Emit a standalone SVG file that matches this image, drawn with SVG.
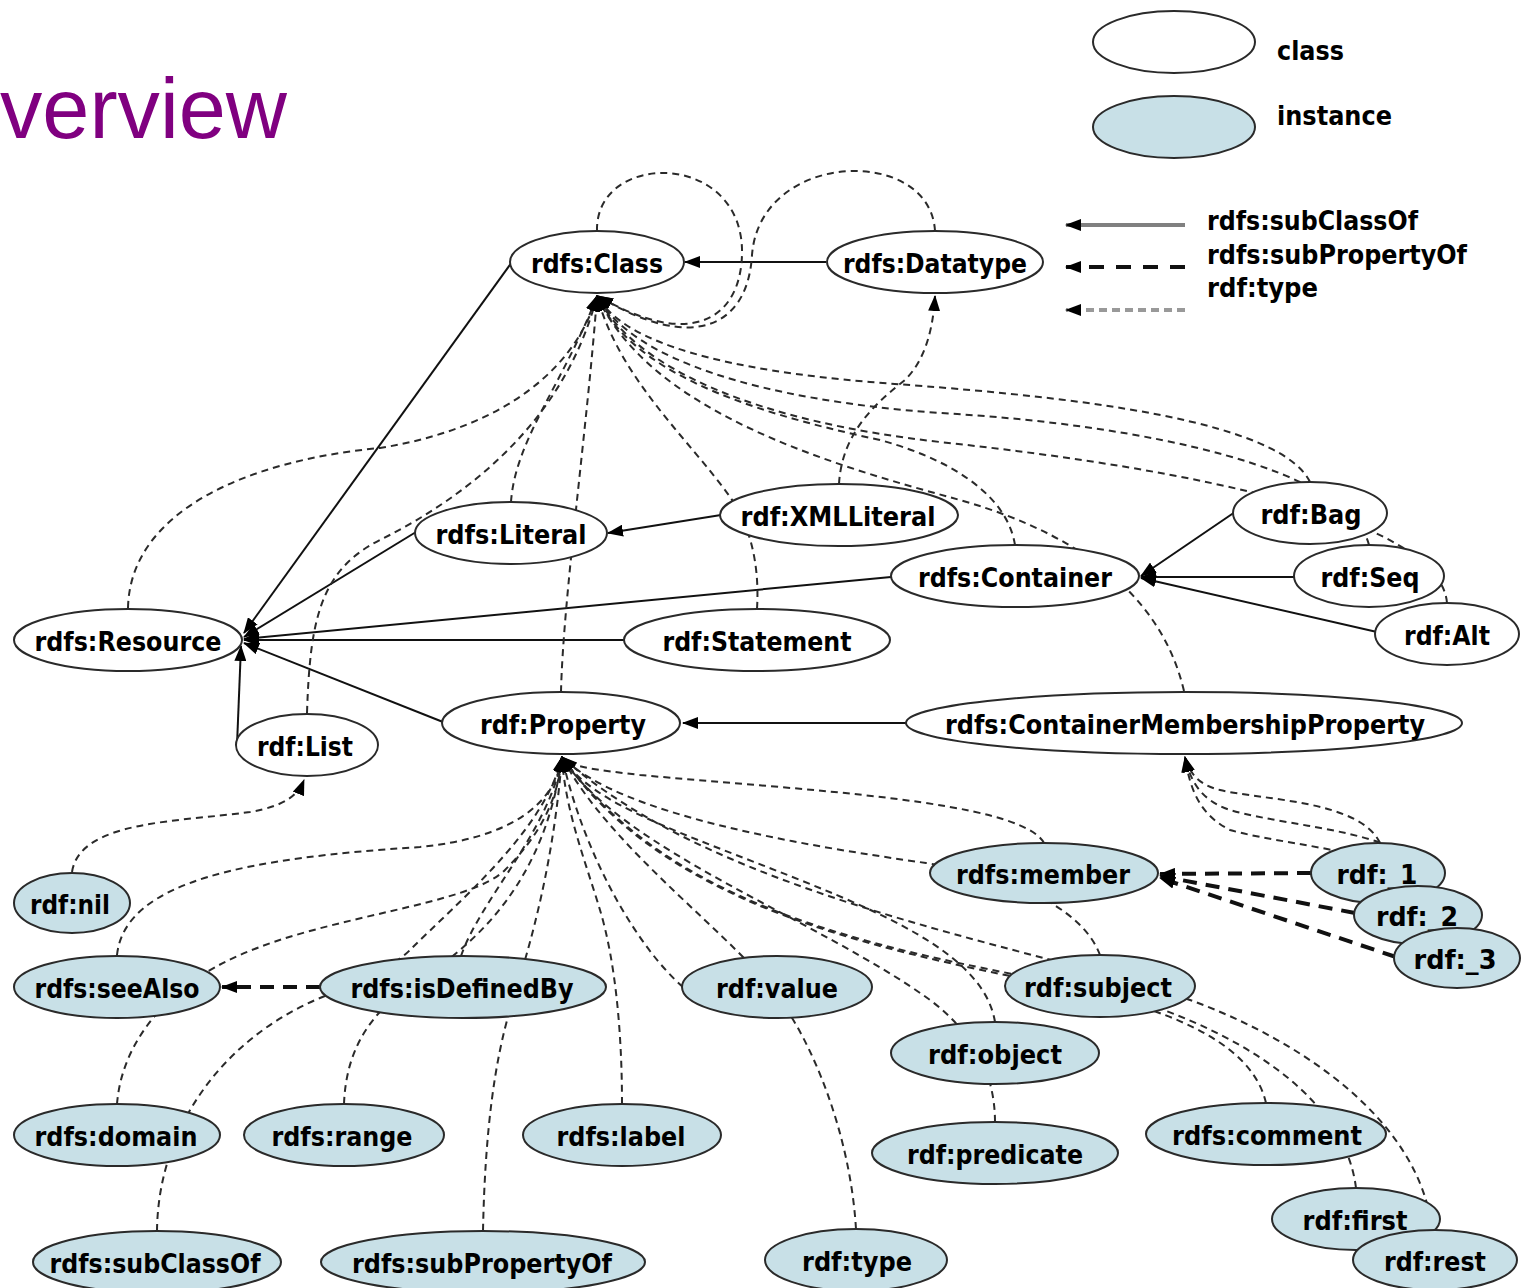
<svg xmlns="http://www.w3.org/2000/svg" width="1522" height="1288" viewBox="0 0 1522 1288">
<style>
.cls{fill:#ffffff;stroke:#2a2a2a;stroke-width:2}
.ins{fill:#c8e0e7;stroke:#2a2a2a;stroke-width:2}
.lbl{font-family:"DejaVu Sans Condensed","DejaVu Sans",sans-serif;font-weight:bold;font-size:26.5px;fill:#000;text-anchor:middle}
.leg{font-family:"DejaVu Sans Condensed","DejaVu Sans",sans-serif;font-weight:bold;font-size:26.5px;fill:#000}
.sub{fill:none;stroke:#111;stroke-width:2;marker-end:url(#arr)}
.sp{fill:none;stroke:#111;stroke-width:4;stroke-dasharray:14 9;marker-end:url(#arr)}
.ty{fill:none;stroke:#2a2a2a;stroke-width:2;stroke-dasharray:7 5;marker-end:url(#arr)}
</style>
<defs>
<marker id="arr" viewBox="0 0 16 12" refX="15" refY="6" markerWidth="16" markerHeight="12" markerUnits="userSpaceOnUse" orient="auto">
<path d="M0,0 L16,6 L0,12 z" fill="#000"/>
</marker>
</defs>
<rect x="0" y="0" width="1522" height="1288" fill="#ffffff"/>
<text x="0" y="138" font-family="Liberation Sans, Arial, sans-serif" font-size="86" fill="#800080" textLength="287" lengthAdjust="spacingAndGlyphs">verview</text>

<g id="legend">
<ellipse cx="1174" cy="42" rx="81" ry="31" class="cls"/>
<text x="1277" y="60" class="leg" textLength="67" lengthAdjust="spacingAndGlyphs">class</text>
<ellipse cx="1174" cy="127" rx="81" ry="31" class="ins"/>
<text x="1277" y="125" class="leg" textLength="115" lengthAdjust="spacingAndGlyphs">instance</text>
<path d="M1185,225 L1066,225" fill="none" stroke="#808080" stroke-width="4" marker-end="url(#arr)"/>
<path d="M1185,267 L1066,267" fill="none" stroke="#111" stroke-width="4" stroke-dasharray="15 12" marker-end="url(#arr)"/>
<path d="M1185,310 L1066,310" fill="none" stroke="#999" stroke-width="4" stroke-dasharray="8 5" marker-end="url(#arr)"/>
<text x="1207" y="230" class="leg" textLength="211" lengthAdjust="spacingAndGlyphs">rdfs:subClassOf</text>
<text x="1207" y="264" class="leg" textLength="260" lengthAdjust="spacingAndGlyphs">rdfs:subPropertyOf</text>
<text x="1207" y="297" class="leg" textLength="111" lengthAdjust="spacingAndGlyphs">rdf:type</text>
</g>

<g id="connectors">
<!-- rdfs:subClassOf -->
<path class="sub" d="M826,262 L685,262"/>
<path class="sub" d="M512,262 L244,633"/>
<path class="sub" d="M416,532 L244,637"/>
<path class="sub" d="M721,515 L608,533"/>
<path class="sub" d="M891,577 L244,639"/>
<path class="sub" d="M625,640 L244,640"/>
<path class="sub" d="M443,722 L244,643"/>
<path class="sub" d="M237,745 L241,646"/>
<path class="sub" d="M1235,512 L1141,576"/>
<path class="sub" d="M1294,577 L1141,577"/>
<path class="sub" d="M1377,632 L1141,578"/>
<path class="sub" d="M906,723 L683,723"/>
<!-- rdfs:subPropertyOf -->
<path class="sp" d="M320,987 L222,987"/>
<path class="sp" d="M1311,873 L1160,874"/>
<path class="sp" d="M1355,913 L1160,876"/>
<path class="sp" d="M1396,957 L1160,878"/>
<!-- rdf:type to rdfs:Class -->
<path class="ty" d="M597,231 C595,150 745,150 742,255 C740,320 690,350 598,296"/>
<path class="ty" d="M935,231 C930,145 760,150 752,255 C748,325 695,355 598,296"/>
<path class="ty" d="M128,608 C130,510 250,460 380,448 C480,432 570,385 597,296"/>
<path class="ty" d="M511,502 C515,440 565,380 597,296"/>
<path class="ty" d="M307,713 C310,620 320,570 380,540 C470,495 565,420 597,296"/>
<path class="ty" d="M561,692 C563,600 588,420 597,296"/>
<path class="ty" d="M757,609 C760,560 748,522 730,497 C690,440 620,380 597,296"/>
<path class="ty" d="M1015,545 C1008,500 960,462 880,440 C740,410 630,370 597,296"/>
<path class="ty" d="M1184,691 C1165,610 1100,540 960,500 C820,462 650,410 597,296"/>
<path class="ty" d="M1310,482 C1275,410 1000,392 870,382 C730,370 625,345 597,296"/>
<path class="ty" d="M1369,545 C1350,470 1150,425 940,413 C760,400 632,360 597,296"/>
<path class="ty" d="M1447,603 C1440,520 1200,470 940,442 C760,422 635,370 597,296"/>
<!-- rdf:type to rdfs:Datatype -->
<path class="ty" d="M839,484 C842,430 880,400 905,380 C925,360 933,330 935,296"/>
<!-- rdf:type to rdf:List -->
<path class="ty" d="M72,872 C80,820 180,822 250,812 C285,806 298,795 304,780"/>
<!-- rdf:type to rdf:Property -->
<path class="ty" d="M117,955 C125,880 250,858 420,847 C510,838 555,805 562,757"/>
<path class="ty" d="M117,1104 C122,1040 170,985 240,955 C330,915 470,905 505,870 C540,835 558,800 562,757"/>
<path class="ty" d="M157,1231 C158,1130 220,1040 320,998 C370,978 395,965 410,950 C460,900 545,830 562,757"/>
<path class="ty" d="M461,956 C480,900 550,830 562,757"/>
<path class="ty" d="M344,1104 C346,1050 370,1010 420,980 C480,940 545,880 562,757"/>
<path class="ty" d="M483,1231 C485,1130 495,1060 510,1010 C525,960 552,880 562,757"/>
<path class="ty" d="M622,1104 C622,1030 615,960 600,910 C585,860 565,810 562,757"/>
<path class="ty" d="M683,987 C640,950 585,860 562,757"/>
<path class="ty" d="M856,1229 C850,1130 810,1040 780,1000 C740,940 610,850 562,757"/>
<path class="ty" d="M1044,843 C1020,800 800,790 640,775 C600,770 570,768 562,757"/>
<path class="ty" d="M1100,955 C1085,915 1030,880 926,863 C800,845 620,815 562,757"/>
<path class="ty" d="M995,1022 C985,960 900,920 800,880 C680,832 592,805 562,757"/>
<path class="ty" d="M995,1122 C995,1070 970,1030 930,1000 C820,920 620,850 562,757"/>
<path class="ty" d="M1266,1103 C1255,1055 1200,1020 1100,995 C950,960 680,930 562,757"/>
<path class="ty" d="M1356,1188 C1345,1100 1250,1040 1150,1005 C1000,960 700,950 562,757"/>
<path class="ty" d="M1432,1230 C1420,1120 1300,1040 1190,1000 C1050,950 720,900 562,757"/>
<!-- rdf:type to rdfs:ContainerMembershipProperty -->
<path class="ty" d="M1380,843 C1360,800 1260,800 1220,790 C1200,785 1190,775 1185,757"/>
<path class="ty" d="M1432,888 C1420,830 1300,830 1230,810 C1200,800 1190,780 1185,757"/>
<path class="ty" d="M1455,928 C1440,850 1300,850 1230,830 C1200,815 1190,790 1185,757"/>
</g>

<g id="n-class"><ellipse cx="597" cy="262" rx="87" ry="31" class="cls"/><text x="597" y="273" class="lbl" textLength="132" lengthAdjust="spacingAndGlyphs">rdfs:Class</text></g>
<g id="n-datatype"><ellipse cx="935" cy="262" rx="108" ry="31" class="cls"/><text x="935" y="273" class="lbl" textLength="184" lengthAdjust="spacingAndGlyphs">rdfs:Datatype</text></g>
<g id="n-literal"><ellipse cx="511" cy="533" rx="96" ry="31" class="cls"/><text x="511" y="544" class="lbl" textLength="151" lengthAdjust="spacingAndGlyphs">rdfs:Literal</text></g>
<g id="n-xmlliteral"><ellipse cx="839" cy="515" rx="119" ry="31" class="cls"/><text x="838" y="526" class="lbl" textLength="195" lengthAdjust="spacingAndGlyphs">rdf:XMLLiteral</text></g>
<g id="n-resource"><ellipse cx="128" cy="640" rx="114" ry="31" class="cls"/><text x="128" y="651" class="lbl" textLength="187" lengthAdjust="spacingAndGlyphs">rdfs:Resource</text></g>
<g id="n-statement"><ellipse cx="757" cy="640" rx="133" ry="31" class="cls"/><text x="757" y="651" class="lbl" textLength="189" lengthAdjust="spacingAndGlyphs">rdf:Statement</text></g>
<g id="n-container"><ellipse cx="1015" cy="576" rx="124" ry="31" class="cls"/><text x="1015" y="587" class="lbl" textLength="194" lengthAdjust="spacingAndGlyphs">rdfs:Container</text></g>
<g id="n-bag"><ellipse cx="1310" cy="513" rx="77" ry="31" class="cls"/><text x="1311" y="524" class="lbl" textLength="101" lengthAdjust="spacingAndGlyphs">rdf:Bag</text></g>
<g id="n-seq"><ellipse cx="1369" cy="576" rx="75" ry="31" class="cls"/><text x="1370" y="587" class="lbl" textLength="99" lengthAdjust="spacingAndGlyphs">rdf:Seq</text></g>
<g id="n-alt"><ellipse cx="1447" cy="634" rx="72" ry="31" class="cls"/><text x="1447" y="645" class="lbl" textLength="86" lengthAdjust="spacingAndGlyphs">rdf:Alt</text></g>
<g id="n-list"><ellipse cx="307" cy="745" rx="71" ry="31" class="cls"/><text x="305" y="756" class="lbl" textLength="96" lengthAdjust="spacingAndGlyphs">rdf:List</text></g>
<g id="n-property"><ellipse cx="561" cy="723" rx="119" ry="31" class="cls"/><text x="563" y="734" class="lbl" textLength="166" lengthAdjust="spacingAndGlyphs">rdf:Property</text></g>
<g id="n-cmp"><ellipse cx="1184" cy="723" rx="278" ry="31" class="cls"/><text x="1185" y="734" class="lbl" textLength="480" lengthAdjust="spacingAndGlyphs">rdfs:ContainerMembershipProperty</text></g>

<g id="n-nil"><ellipse cx="72" cy="903" rx="58" ry="30" class="ins"/><text x="70" y="914" class="lbl" textLength="80" lengthAdjust="spacingAndGlyphs">rdf:nil</text></g>
<g id="n-member"><ellipse cx="1044" cy="873" rx="114" ry="30" class="ins"/><text x="1043" y="884" class="lbl" textLength="174" lengthAdjust="spacingAndGlyphs">rdfs:member</text></g>
<g id="n-1"><ellipse cx="1378" cy="873" rx="67" ry="30" class="ins"/><text x="1377" y="884" class="lbl" textLength="81" lengthAdjust="spacingAndGlyphs">rdf:_1</text></g>
<g id="n-2"><ellipse cx="1418" cy="915" rx="64" ry="29" class="ins"/><text x="1417" y="926" class="lbl" textLength="82" lengthAdjust="spacingAndGlyphs">rdf:_2</text></g>
<g id="n-3"><ellipse cx="1457" cy="958" rx="63" ry="30" class="ins"/><text x="1455" y="969" class="lbl" textLength="83" lengthAdjust="spacingAndGlyphs">rdf:_3</text></g>
<g id="n-seealso"><ellipse cx="117" cy="987" rx="103" ry="31" class="ins"/><text x="117" y="998" class="lbl" textLength="165" lengthAdjust="spacingAndGlyphs">rdfs:seeAlso</text></g>
<g id="n-isdefinedby"><ellipse cx="463" cy="987" rx="143" ry="31" class="ins"/><text x="462" y="998" class="lbl" textLength="223" lengthAdjust="spacingAndGlyphs">rdfs:isDefinedBy</text></g>
<g id="n-value"><ellipse cx="777" cy="987" rx="95" ry="31" class="ins"/><text x="777" y="998" class="lbl" textLength="122" lengthAdjust="spacingAndGlyphs">rdf:value</text></g>
<g id="n-subject"><ellipse cx="1100" cy="986" rx="95" ry="31" class="ins"/><text x="1098" y="997" class="lbl" textLength="148" lengthAdjust="spacingAndGlyphs">rdf:subject</text></g>
<g id="n-object"><ellipse cx="995" cy="1053" rx="104" ry="31" class="ins"/><text x="995" y="1064" class="lbl" textLength="134" lengthAdjust="spacingAndGlyphs">rdf:object</text></g>
<g id="n-domain"><ellipse cx="117" cy="1135" rx="103" ry="31" class="ins"/><text x="116" y="1146" class="lbl" textLength="163" lengthAdjust="spacingAndGlyphs">rdfs:domain</text></g>
<g id="n-range"><ellipse cx="344" cy="1135" rx="100" ry="31" class="ins"/><text x="342" y="1146" class="lbl" textLength="141" lengthAdjust="spacingAndGlyphs">rdfs:range</text></g>
<g id="n-label"><ellipse cx="622" cy="1135" rx="99" ry="31" class="ins"/><text x="621" y="1146" class="lbl" textLength="129" lengthAdjust="spacingAndGlyphs">rdfs:label</text></g>
<g id="n-predicate"><ellipse cx="995" cy="1153" rx="123" ry="31" class="ins"/><text x="995" y="1164" class="lbl" textLength="176" lengthAdjust="spacingAndGlyphs">rdf:predicate</text></g>
<g id="n-comment"><ellipse cx="1266" cy="1134" rx="120" ry="31" class="ins"/><text x="1267" y="1145" class="lbl" textLength="190" lengthAdjust="spacingAndGlyphs">rdfs:comment</text></g>
<g id="n-first"><ellipse cx="1356" cy="1219" rx="84" ry="31" class="ins"/><text x="1355" y="1230" class="lbl" textLength="105" lengthAdjust="spacingAndGlyphs">rdf:first</text></g>
<g id="n-rest"><ellipse cx="1435" cy="1260" rx="82" ry="30" class="ins"/><text x="1435" y="1271" class="lbl" textLength="102" lengthAdjust="spacingAndGlyphs">rdf:rest</text></g>
<g id="n-subclassof"><ellipse cx="157" cy="1262" rx="124" ry="31" class="ins"/><text x="155" y="1273" class="lbl" textLength="211" lengthAdjust="spacingAndGlyphs">rdfs:subClassOf</text></g>
<g id="n-subpropertyof"><ellipse cx="483" cy="1262" rx="162" ry="31" class="ins"/><text x="482" y="1273" class="lbl" textLength="260" lengthAdjust="spacingAndGlyphs">rdfs:subPropertyOf</text></g>
<g id="n-type"><ellipse cx="856" cy="1260" rx="91" ry="31" class="ins"/><text x="857" y="1271" class="lbl" textLength="110" lengthAdjust="spacingAndGlyphs">rdf:type</text></g>
</svg>
